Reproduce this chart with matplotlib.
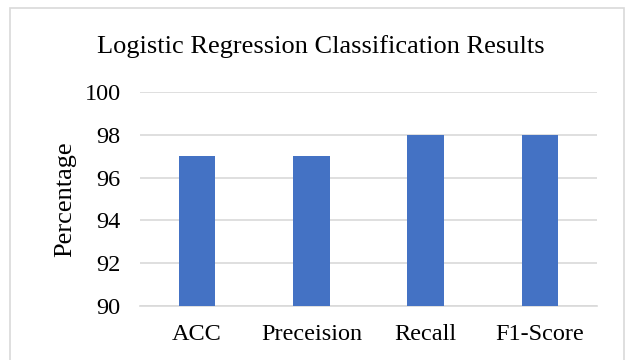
import matplotlib.pyplot as plt
from matplotlib.patches import Rectangle

# classification metrics (percent)
metrics = ['ACC', 'Preceision', 'Recall', 'F1-Score']
scores = [97, 97, 98, 98]
yticks = [90, 92, 94, 96, 98, 100]

plt.rcParams['font.family'] = ['Liberation Serif', 'DejaVu Serif']

fig = plt.figure(figsize=(6.32, 3.6), dpi=100)
ax = fig.add_axes([0.2215, 0.15, 0.7231, 0.5944])

ax.bar(range(len(metrics)), scores, width=0.32, color='#4472C4', zorder=3)

ax.set_xlim(-0.5, len(metrics) - 0.5)
ax.set_ylim(yticks[0], yticks[-1])
ax.set_yticks(yticks)
ax.set_xticks(range(len(metrics)))
ax.set_xticklabels(metrics)
ax.tick_params(axis='both', length=0, labelsize=17.5, colors='black')
ax.tick_params(axis='y', pad=14)
ax.tick_params(axis='x', pad=13)
ax.yaxis.grid(True, color='#d9d9d9', linewidth=1.2, zorder=0)
ax.set_axisbelow(True)
for s in ['top', 'right', 'left']:
    ax.spines[s].set_visible(False)
ax.spines['bottom'].set_color('#d9d9d9')
ax.spines['bottom'].set_linewidth(1.2)

ax.set_ylabel('Percentage', fontsize=19, labelpad=6)
fig.text(0.507, 0.872, 'Logistic Regression Classification Results',
         ha='center', va='center', fontsize=19)

# chart area border
fig.patches.append(Rectangle((10 / 632, -0.05), 614 / 632, 1.05 - 8 / 360,
                             transform=fig.transFigure, fill=False,
                             edgecolor='#d9d9d9', linewidth=1.2))

fig.savefig('out.png', dpi=100)
